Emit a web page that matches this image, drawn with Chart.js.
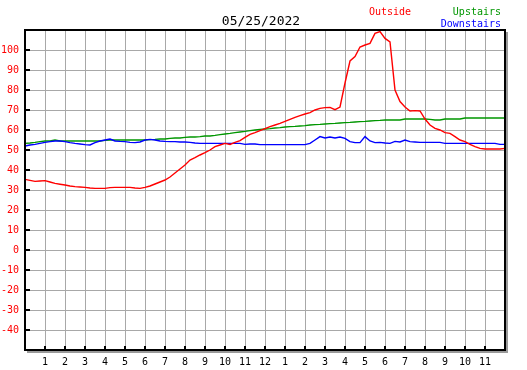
<!DOCTYPE html>
<html>
<head>
<meta charset="utf-8">
<script src="https://cdn.jsdelivr.net/npm/chart.js@4/dist/chart.umd.min.js"></script>
<style>
  html, body { margin: 0; padding: 0; background: #fff; }
  #wrap { width: 527px; height: 370px; }
</style>
</head>
<body>
<div id="wrap"><canvas id="tempChart" width="527" height="370"></canvas></div>
<script>
// --- data (hours since midnight, deg F) ---
const hours = [
  0, 0.25, 0.5, 0.75, 1, 1.25, 1.5, 1.75, 2, 2.25, 2.5, 2.75,
  3, 3.25, 3.5, 3.75, 4, 4.25, 4.5, 4.75, 5, 5.25, 5.5, 5.75,
  6, 6.25, 6.5, 6.75, 7, 7.25, 7.5, 7.75, 8, 8.25, 8.5, 8.75,
  9, 9.25, 9.5, 9.75, 10, 10.25, 10.5, 10.75, 11, 11.25, 11.5, 11.75,
  12, 12.25, 12.5, 12.75, 13, 13.25, 13.5, 13.75, 14, 14.25, 14.5, 14.75,
  15, 15.25, 15.5, 15.75, 16, 16.25, 16.5, 16.75, 17, 17.25, 17.5, 17.75,
  18, 18.25, 18.5, 18.75, 19, 19.25, 19.5, 19.75, 20, 20.25, 20.5, 20.75,
  21, 21.25, 21.5, 21.75, 22, 22.25, 22.5, 22.75, 23, 23.25, 23.5, 23.75,
  24
];

const outside = [
  35.3, 34.8, 34.3, 34.5, 34.7, 34.0, 33.3, 32.9,
  32.5, 32.0, 31.7, 31.5, 31.3, 31.0, 30.8, 30.8,
  30.8, 31.2, 31.3, 31.3, 31.3, 31.3, 31.0, 30.8,
  31.3, 32.0, 33.0, 34.0, 35.0, 36.5, 38.5, 40.5,
  42.5, 45.0, 46.2, 47.5, 48.7, 50.0, 51.7, 52.5,
  53.3, 52.8, 53.8, 54.7, 56.3, 57.8, 58.7, 59.7,
  60.7, 61.7, 62.5, 63.3, 64.3, 65.3, 66.3, 67.2,
  68.0, 68.7, 70.0, 70.8, 71.2, 71.3, 70.2, 71.5,
  83.5, 94.5, 96.7, 101.5, 102.5, 103.3, 108.3, 109.2,
  105.8, 104.0, 80.0, 74.2, 71.5, 69.5, 69.7, 69.5,
  65.5, 62.5, 60.8, 60.0, 58.7, 58.3, 56.7, 55.0,
  54.2, 52.8, 51.7, 50.8, 50.5, 50.5, 50.5, 50.5,
  50.8
];

const upstairs = [
  53.3, 53.5, 53.8, 54.2, 54.5, 54.5, 55.0, 54.5,
  54.5, 54.5, 54.5, 54.5, 54.5, 54.5, 54.5, 54.5,
  54.8, 55.0, 55.0, 55.0, 55.0, 55.0, 55.0, 55.0,
  55.0, 55.2, 55.3, 55.5, 55.5, 55.8, 56.0, 56.0,
  56.3, 56.5, 56.5, 56.7, 57.0, 57.0, 57.3, 57.7,
  58.0, 58.3, 58.7, 59.0, 59.3, 59.7, 60.0, 60.3,
  60.5, 60.7, 61.0, 61.2, 61.5, 61.7, 61.8, 62.0,
  62.2, 62.5, 62.7, 62.8, 63.0, 63.2, 63.3, 63.5,
  63.7, 63.8, 64.0, 64.2, 64.3, 64.5, 64.7, 64.8,
  65.0, 65.0, 65.0, 65.0, 65.5, 65.5, 65.5, 65.5,
  65.5, 65.3, 65.0, 65.0, 65.5, 65.5, 65.5, 65.5,
  66.0, 66.0, 66.0, 66.0, 66.0, 66.0, 66.0, 66.0,
  66.0
];

const downstairs = [
  52.0, 52.5, 52.8, 53.3, 53.8, 54.2, 54.5, 54.5,
  54.2, 53.7, 53.3, 53.0, 52.7, 52.5, 53.7, 54.5,
  55.0, 55.5, 54.5, 54.3, 54.2, 53.8, 53.7, 54.0,
  55.0, 55.3, 55.0, 54.5, 54.3, 54.2, 54.2, 54.0,
  54.0, 53.8, 53.5, 53.3, 53.3, 53.3, 53.3, 53.3,
  53.3, 53.3, 53.3, 53.3, 52.8, 53.0, 53.0, 52.7,
  52.7, 52.7, 52.7, 52.7, 52.7, 52.7, 52.7, 52.7,
  52.7, 53.3, 55.0, 56.7, 56.0, 56.5, 56.0, 56.5,
  55.8, 54.2, 53.7, 53.7, 56.7, 54.5, 53.7, 53.8,
  53.5, 53.3, 54.3, 54.0, 55.0, 54.2, 54.0, 53.8,
  53.8, 53.8, 53.8, 53.8, 53.3, 53.3, 53.3, 53.3,
  53.3, 53.3, 53.3, 53.3, 53.3, 53.3, 53.3, 52.8,
  52.8
];

// x tick labels for hours 1..23 (12-hour clock)
const hourLabels = ['1', '2', '3', '4', '5', '6', '7', '8', '9', '10', '11', '12',
                    '1', '2', '3', '4', '5', '6', '7', '8', '9', '10', '11'];
// y tick values that get a label and a tick mark
const tempTicks = [-40, -30, -20, -10, 0, 10, 20, 30, 40, 50, 60, 70, 80, 90, 100];

const chartDate = '05/25/2022';
const FONT = '"DejaVu Sans Mono", "Liberation Mono", monospace';

function toPoints(values) {
    return hours.map((h, i) => ({ x: h, y: values[i] }));
}

// frame, inside ticks, title and legend texts
const framePlugin = {
    id: 'frame',
    afterDraw(chart) {
        const { ctx, chartArea: a, scales } = chart;
        ctx.save();

        // grey drop shadow right and below
        ctx.fillStyle = '#9a9a9a';
        ctx.fillRect(a.right + 1, a.top + 2, 2, a.bottom - a.top + 1);
        ctx.fillRect(a.left + 2, a.bottom + 1, a.right - a.left + 1, 2);

        // black box
        ctx.strokeStyle = '#000';
        ctx.lineWidth = 2;
        ctx.strokeRect(a.left, a.top, a.right - a.left, a.bottom - a.top);

        // tick marks pointing inside
        ctx.beginPath();
        tempTicks.forEach(v => {
            const y = Math.round(scales.y.getPixelForValue(v));
            ctx.moveTo(a.left, y);
            ctx.lineTo(a.left + 5, y);
        });
        hourLabels.forEach((_, i) => {
            const x = Math.round(scales.x.getPixelForValue(i + 1));
            ctx.moveTo(x, a.bottom);
            ctx.lineTo(x, a.bottom - 4);
        });
        ctx.stroke();

        // title
        ctx.fillStyle = '#000';
        ctx.font = '13px ' + FONT;
        ctx.textAlign = 'center';
        ctx.textBaseline = 'alphabetic';
        ctx.fillText(chartDate, 261, 25);

        // legend texts
        ctx.font = '10px ' + FONT;
        ctx.textAlign = 'left';
        ctx.fillStyle = '#ff0000';
        ctx.fillText('Outside', 369, 15);
        ctx.textAlign = 'right';
        ctx.fillStyle = '#009600';
        ctx.fillText('Upstairs', 501, 15);
        ctx.fillStyle = '#0000ff';
        ctx.fillText('Downstairs', 501, 27);

        ctx.restore();
    }
};

function drawChart() {
    const ctx = document.getElementById('tempChart').getContext('2d');

    new Chart(ctx, {
        type: 'line',
        data: {
            datasets: [
                { label: 'Outside', data: toPoints(outside), borderColor: '#ff0000' },
                { label: 'Downstairs', data: toPoints(downstairs), borderColor: '#0000ff' },
                { label: 'Upstairs', data: toPoints(upstairs), borderColor: '#009600' }
            ]
        },
        options: {
            responsive: false,
            animation: false,
            layout: { padding: { top: 30, right: 22, bottom: 0, left: 0 } },
            elements: {
                line: { borderWidth: 1.4, tension: 0, fill: false },
                point: { radius: 0 }
            },
            scales: {
                x: {
                    type: 'linear',
                    min: 0,
                    max: 24,
                    border: { display: false },
                    grid: { color: '#a8a8a8', lineWidth: 1, drawTicks: false },
                    ticks: {
                        stepSize: 1,
                        padding: 6,
                        color: '#000',
                        font: { family: FONT, size: 10 },
                        maxRotation: 0,
                        autoSkip: false,
                        callback: v => hourLabels[v - 1] || ''
                    },
                    afterFit: s => { s.height = 20; }
                },
                y: {
                    min: -50,
                    max: 110,
                    border: { display: false },
                    grid: { color: '#a8a8a8', lineWidth: 1, drawTicks: false },
                    ticks: {
                        stepSize: 10,
                        padding: 6,
                        color: '#ff0000',
                        font: { family: FONT, size: 10 },
                        callback: v => tempTicks.includes(v) ? String(v) : ''
                    },
                    afterFit: s => { s.width = 25; }
                }
            },
            plugins: {
                legend: { display: false },
                tooltip: { enabled: false }
            }
        },
        plugins: [framePlugin]
    });
}

drawChart();
</script>
</body>
</html>
